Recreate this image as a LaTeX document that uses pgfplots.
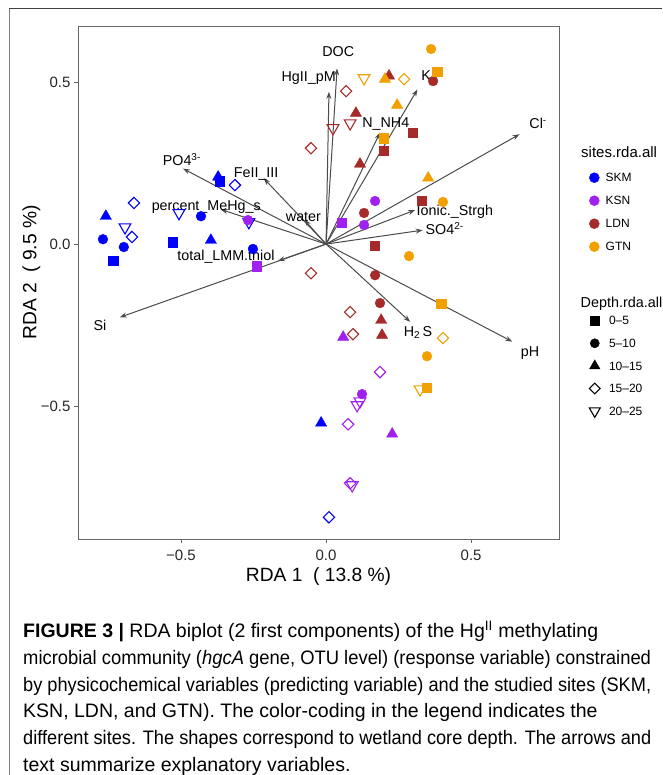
\documentclass[border=0pt]{standalone}
\usepackage{fontspec}
\setmainfont{Liberation Sans}
\usepackage{graphicx}
\usepackage{pgfplots}
\pgfplotsset{compat=1.18}
\usetikzlibrary{arrows.meta}
\definecolor{skm}{RGB}{0,0,255}
\definecolor{ksn}{RGB}{160,32,240}
\definecolor{ldn}{RGB}{165,42,42}
\definecolor{gtn}{RGB}{242,160,0}
\definecolor{arr}{RGB}{75,75,75}
\pgfplotsset{
  sq/.style={only marks, mark=square*, mark size=4.6pt, forget plot},
  ci/.style={only marks, mark=*, mark size=4.9pt, forget plot},
  tr/.style={only marks, mark=triangle*, mark size=6.5pt, forget plot},
  di/.style={only marks, mark=square, mark size=4pt, mark options={rotate=45, line width=1.1pt}, forget plot},
  td/.style={only marks, mark=triangle, mark size=6.8pt, mark options={rotate=180, line width=1.1pt}, forget plot},
  vec/.style={arr, line width=1pt, -{Stealth[length=7pt, width=5pt]}, forget plot},
}
\tikzset{lab/.style={anchor=base, yshift=-5.1pt, inner sep=0pt, font=\fontsize{14.3}{16}\selectfont}}
\begin{document}
\begin{tikzpicture}[x=1pt,y=1pt]
\useasboundingbox (0,0) rectangle (662,775);
\draw[black!75, line width=1pt] (9,766) -- (662,766);
\draw[black!50, line width=1pt] (9,0) -- (9,766);
\begin{axis}[
  at={(78pt,236pt)}, anchor=south west,
  scale only axis, width=481pt, height=513pt,
  xmin=-0.855, xmax=0.803, ymin=-0.910, ymax=0.673,
  clip=false,
  axis line style={black!60, line width=0.9pt},
  tick style={black!60, line width=0.9pt},
  tick align=outside, major tick length=4pt,
  xtick pos=left, ytick pos=left,
  xtick={-0.5,0,0.5}, xticklabels={−0.5,0.0,0.5},
  ytick={-0.5,0,0.5}, yticklabels={−0.5,0.0,0.5},
  ticklabel style={font=\fontsize{15}{18}\selectfont, text=black!85},
  xticklabel style={anchor=base, yshift=-18pt},
  xlabel={RDA 1\ \ (\ 13.8\ \%)},
  ylabel={RDA 2\ \ (\ 9.5\ \%)},
  label style={font=\fontsize{19.2}{22}\selectfont},
  xlabel style={at={(axis description cs:0.5,-0.0819)}, anchor=base},
  ylabel style={at={(axis description cs:-0.0865,0.5195)}, anchor=base},
  legend style={at={(1.0630,0.7267)}, anchor=north west, draw=none, fill=none,
    inner sep=0pt, outer sep=0pt, font=\fontsize{12}{14}\selectfont,
    column sep=6.4pt, nodes={inner sep=0pt, text height=15.8pt, text depth=7.2pt}},
  legend cell align=left,
]
\addlegendimage{only marks, mark=*, mark size=5pt, skm}
\addlegendentry{SKM}
\addlegendimage{only marks, mark=*, mark size=5pt, ksn}
\addlegendentry{KSN}
\addlegendimage{only marks, mark=*, mark size=5pt, ldn}
\addlegendentry{LDN}
\addlegendimage{only marks, mark=*, mark size=5pt, gtn}
\addlegendentry{GTN}

% arrows
\addplot[vec] coordinates {(0,0) (0.038,0.542)};
\addplot[vec] coordinates {(0,0) (0.010,0.470)};
\addplot[vec] coordinates {(0,0) (0.315,0.477)};
\addplot[vec] coordinates {(0,0) (0.186,0.344)};
\addplot[vec] coordinates {(0,0) (0.667,0.339)};
\addplot[vec] coordinates {(0,0) (-0.493,0.233)};
\addplot[vec] coordinates {(0,0) (-0.215,0.203)};
\addplot[vec] coordinates {(0,0) (-0.363,0.107)};
\addplot[vec] coordinates {(0,0) (-0.075,0.075)};
\addplot[vec] coordinates {(0,0) (-0.166,-0.052)};
\addplot[vec] coordinates {(0,0) (-0.711,-0.226)};
\addplot[vec] coordinates {(0,0) (0.307,0.105)};
\addplot[vec] coordinates {(0,0) (0.333,0.043)};
\addplot[vec] coordinates {(0,0) (0.290,-0.240)};
\addplot[vec] coordinates {(0,0) (0.642,-0.301)};

% SKM
\addplot[sq, skm] coordinates {(-0.366,0.194) (-0.528,0.006) (-0.734,-0.052)};
\addplot[ci, skm] coordinates {(-0.431,0.086) (-0.769,0.015) (-0.697,-0.009) (-0.252,-0.015)};
\addplot[tr, skm] coordinates {(-0.372,0.207) (-0.759,0.086) (-0.397,0.012) (-0.017,-0.552)};
\addplot[di, skm] coordinates {(-0.314,0.182) (-0.662,0.127) (-0.669,0.022) (0.010,-0.843)};
\addplot[td, skm] coordinates {(-0.507,0.096) (-0.266,0.068) (-0.693,0.052)};
% KSN
\addplot[sq, ksn] coordinates {(-0.238,-0.068) (0.055,0.065)};
\addplot[ci, ksn] coordinates {(-0.269,0.074) (0.169,0.133) (0.131,0.059) (0.124,-0.463)};
\addplot[tr, ksn] coordinates {(0.059,-0.287) (0.228,-0.586)};
\addplot[di, ksn] coordinates {(0.186,-0.395) (0.076,-0.556) (0.083,-0.738)};
\addplot[td, ksn] coordinates {(0.107,-0.497) (0.117,-0.485) (0.090,-0.744)};
% LDN
\addplot[sq, ldn] coordinates {(0.300,0.343) (0.200,0.287) (0.331,0.133) (0.169,-0.006)};
\addplot[ci, ldn] coordinates {(0.369,0.503) (0.131,0.096) (0.169,-0.096) (0.186,-0.182)};
\addplot[tr, ldn] coordinates {(0.217,0.519) (0.103,0.404) (0.117,0.247) (0.190,-0.235) (0.193,-0.281)};
\addplot[di, ldn] coordinates {(0.069,0.472) (-0.052,0.296) (-0.052,-0.090) (0.083,-0.210) (0.093,-0.278)};
\addplot[td, ldn] coordinates {(0.024,0.358) (0.083,0.373)};
% GTN
\addplot[sq, gtn] coordinates {(0.383,0.531) (0.200,0.327) (0.397,-0.185) (0.348,-0.444)};
\addplot[ci, gtn] coordinates {(0.362,0.602) (0.403,0.130) (0.286,-0.037) (0.348,-0.346)};
\addplot[tr, gtn] coordinates {(0.203,0.509) (0.245,0.429) (0.352,0.204)};
\addplot[di, gtn] coordinates {(0.269,0.509) (0.403,-0.290)};
\addplot[td, gtn] coordinates {(0.131,0.512) (0.324,-0.448)};

% labels
\node[lab] at (axis cs:0.042,0.595) {DOC};
\node[lab] at (axis cs:-0.060,0.516) {HgII\_pM};
\node[lab] at (axis cs:0.345,0.522) {K};
\node[lab] at (axis cs:0.206,0.374) {N\_NH4};
\node[lab] at (axis cs:0.731,0.373) {Cl\textsuperscript{-}};
\node[lab] at (axis cs:-0.497,0.257) {PO4\textsuperscript{3-}};
\node[lab] at (axis cs:-0.241,0.221) {FeII\_III};
\node[lab] at (axis cs:-0.413,0.118) {percent\_MeHg\_s};
\node[lab] at (axis cs:-0.078,0.084) {water};
\node[lab] at (axis cs:-0.345,-0.036) {total\_LMM.thiol};
\node[lab] at (axis cs:-0.779,-0.252) {Si};
\node[lab] at (axis cs:0.444,0.105) {Ionic.\_Strgh};
\node[lab] at (axis cs:0.409,0.045) {SO4\textsuperscript{2-}};
\node[lab] at (axis cs:0.317,-0.269) {H\textsubscript{2}\,S};
\node[lab] at (axis cs:0.703,-0.332) {pH};
\end{axis}

\begin{axis}[
  at={(78pt,236pt)}, anchor=south west,
  scale only axis, width=481pt, height=513pt,
  hide axis, xmin=0, xmax=1, ymin=0, ymax=1,
  legend style={at={(1.0630,0.4476)}, anchor=north west, draw=none, fill=none,
    inner sep=0pt, outer sep=0pt, font=\fontsize{12}{14}\selectfont,
    column sep=8.8pt, nodes={inner sep=0pt, text height=15.6pt, text depth=7.0pt}},
  legend cell align=left,
]
\addplot[draw=none, forget plot] coordinates {(0.5,0.5)};
\addlegendimage{only marks, mark=square*, mark size=4.3pt, black}
\addlegendentry{0–5}
\addlegendimage{only marks, mark=*, mark size=4.6pt, black}
\addlegendentry{5–10}
\addlegendimage{only marks, mark=triangle*, mark size=6pt, black}
\addlegendentry{10–15}
\addlegendimage{only marks, mark=square, mark size=3.8pt, mark options={rotate=45, line width=1.1pt}, black}
\addlegendentry{15–20}
\addlegendimage{only marks, mark=triangle, mark size=6.3pt, mark options={rotate=180, line width=1.1pt}, black}
\addlegendentry{20–25}
\end{axis}

\node[anchor=base west, inner sep=0pt, font=\fontsize{15}{18}\selectfont] at (581,617) {sites.rda.all};
\node[anchor=base west, inner sep=0pt, font=\fontsize{14.4}{18}\selectfont] at (580.5,467.5) {Depth.rda.all};

\begin{scope}[every node/.style={anchor=base west, inner sep=0pt, font=\fontsize{19.5}{23}\selectfont}]
\node at (23,137) {\textbf{FIGURE 3 |} RDA biplot (2 first components) of the Hg\textsuperscript{II} methylating};
\node at (23,110.4) {\scalebox{0.9435}[1]{microbial community (\textit{hgcA} gene, OTU level) (response variable) constrained}};
\node at (23,83.8) {\scalebox{0.933}[1]{by physicochemical variables (predicting variable) and the studied sites (SKM,}};
\node at (23,57.2) {KSN, LDN, and GTN). The color-coding in the legend indicates the};
\node at (23,30.6) {\scalebox{0.933}[1]{different sites. The shapes correspond to wetland core depth. The arrows and}};
\node at (23,4) {text summarize explanatory variables.};
\end{scope}
\end{tikzpicture}
\end{document}
